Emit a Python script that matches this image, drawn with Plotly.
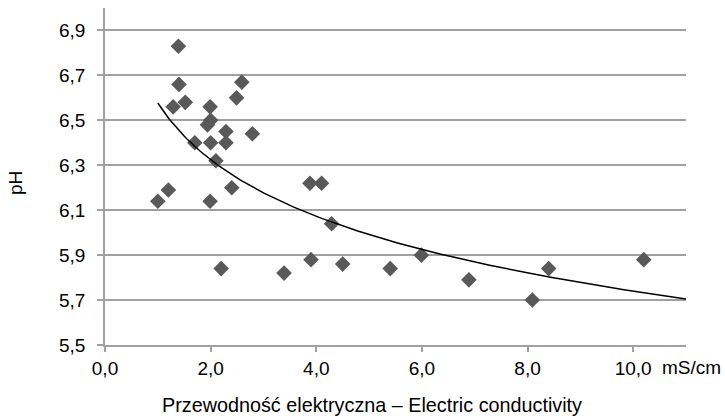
import numpy as np
import plotly.graph_objects as go

# Electric conductivity (mS/cm)
conductivity = [1.0, 1.2, 1.39, 1.40, 1.29, 1.52, 1.70, 1.94, 2.0, 1.99, 2.0, 1.99,
                2.10, 2.20, 2.29, 2.29, 2.40, 2.49, 2.59, 2.79, 3.39, 3.88, 4.10,
                3.90, 4.29, 4.50, 5.40, 5.99, 6.89, 8.09, 8.40, 10.2]
# pH
ph = [6.14, 6.19, 6.83, 6.66, 6.56, 6.58, 6.40, 6.48, 6.50, 6.56, 6.40, 6.14,
      6.32, 5.84, 6.45, 6.40, 6.20, 6.60, 6.67, 6.44, 5.82, 6.22, 6.22,
      5.88, 6.04, 5.86, 5.84, 5.90, 5.79, 5.70, 5.84, 5.88]

# logarithmic trend line y = a + b*ln(x)
trend_intercept = 6.577
trend_slope = -0.3637
trend_x_range = [1.0, 11.0]

x_ticks = [0, 2, 4, 6, 8, 10]
y_ticks = [5.5, 5.7, 5.9, 6.1, 6.3, 6.5, 6.7, 6.9]

x_title = "Przewodność elektryczna – Electric conductivity"
y_title = "pH"
unit_label = "mS/cm"

tx = np.linspace(trend_x_range[0], trend_x_range[1], 200)
ty = trend_intercept + trend_slope * np.log(tx)

fam = "Liberation Sans, Arial, sans-serif"
font = dict(family=fam, size=19, color="#000000")
title_font = dict(family=fam, size=19.8, color="#000000")
grid = "#a0a0a0"

fig = go.Figure()
fig.add_trace(go.Scatter(
    x=conductivity, y=ph, mode="markers",
    marker=dict(symbol="diamond", size=12, color="#595959", line=dict(width=0)),
    showlegend=False, hoverinfo="skip"))
fig.add_trace(go.Scatter(
    x=tx, y=ty, mode="lines", line=dict(color="#000000", width=1.5),
    showlegend=False, hoverinfo="skip"))

fig.update_layout(
    width=725, height=419,
    margin=dict(l=105, r=39, t=8, b=74, autoexpand=False),
    paper_bgcolor="white", plot_bgcolor="white",
    separators=", ",
    font=font,
    xaxis=dict(
        range=[0, 11], tickvals=x_ticks, tickformat=".1f",
        showgrid=False, zeroline=False,
        showline=True, linecolor=grid, linewidth=1.5,
        ticks="outside", ticklen=5, tickwidth=1.5, tickcolor=grid,
        tickfont=font,
    ),
    yaxis=dict(
        range=[5.5, 7.0], tickvals=y_ticks, tickformat=".1f",
        showgrid=True, gridcolor=grid, gridwidth=1.5, zeroline=False,
        showline=True, linecolor=grid, linewidth=1.5,
        ticks="outside", ticklen=6, tickwidth=1.5, tickcolor=grid,
        tickfont=font, ticklabelstandoff=8,
    ),
    annotations=[
        dict(text=unit_label, x=0.9587, xref="paper", y=-0.0653, yref="paper",
             xanchor="left", yanchor="middle", xshift=-2, showarrow=False, font=font),
        dict(text=x_title, x=0.4604, xref="paper", y=-0.178, yref="paper",
             xanchor="center", yanchor="middle", showarrow=False, font=title_font),
        dict(text=y_title, x=-0.1549, xref="paper", y=0.4807, yref="paper",
             xanchor="center", yanchor="middle", textangle=-90,
             showarrow=False, font=font),
    ],
)

fig.write_html("out.html", config={"displayModeBar": False},
               post_script="document.body.style.margin='0';")
